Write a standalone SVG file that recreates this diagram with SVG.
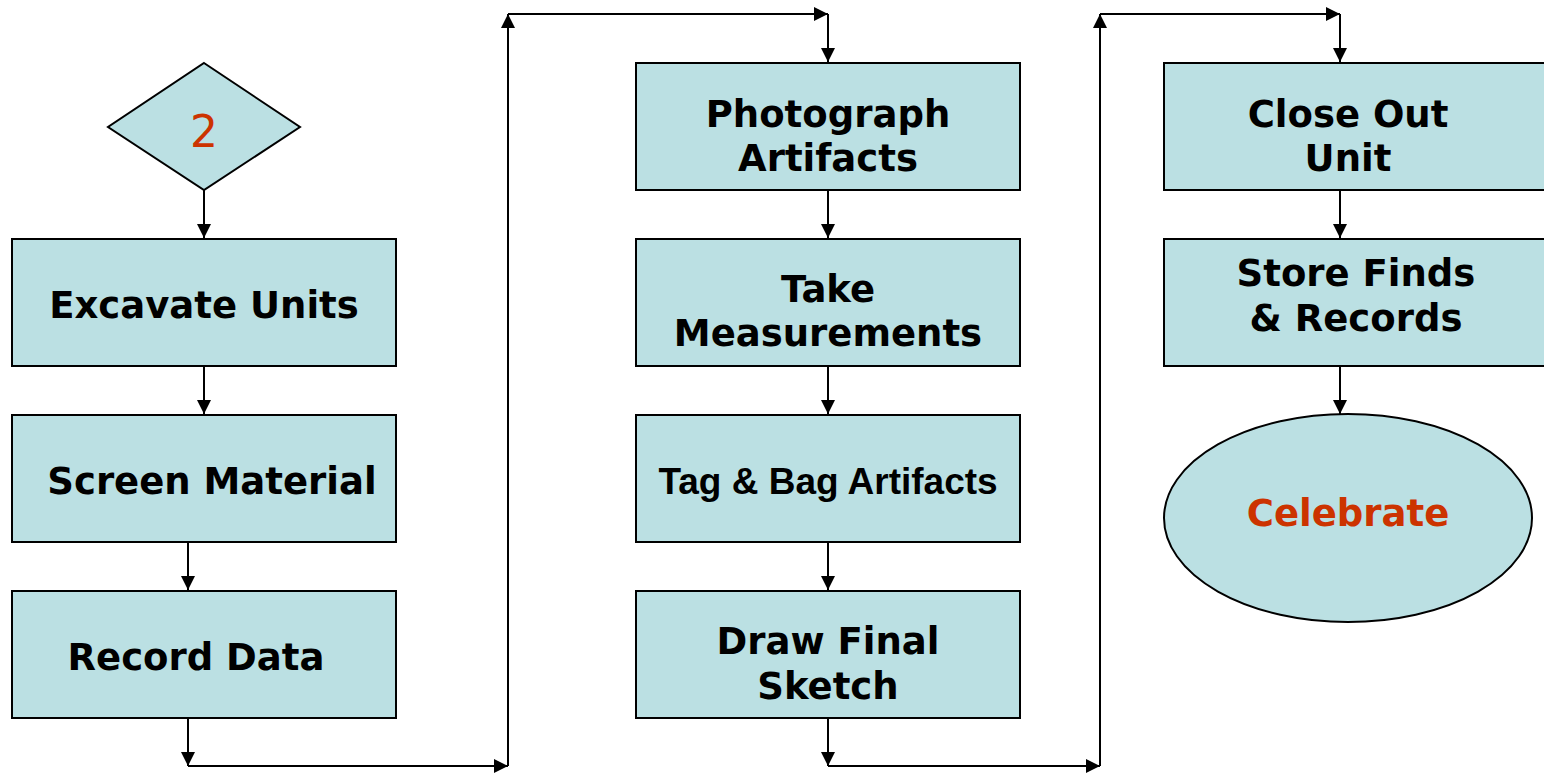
<svg xmlns="http://www.w3.org/2000/svg" width="1544" height="773" viewBox="0 0 1544 773">
<style>
.box{fill:#BBE0E3;stroke:#000;stroke-width:2}
.t{font-family:"DejaVu Sans",Verdana,sans-serif;font-weight:bold;font-size:37px;fill:#000;text-anchor:middle}
.a{font-family:"Liberation Sans",Arial,sans-serif;font-weight:bold;font-size:37px;fill:#000;text-anchor:middle}
.r{fill:#CC3300}
.c{fill:none;stroke:#000;stroke-width:2;marker-end:url(#ah)}
</style>
<defs>
<marker id="ah" viewBox="0 0 14 14" refX="14" refY="7" markerWidth="14" markerHeight="14" markerUnits="userSpaceOnUse" orient="auto">
<path d="M0,0 L14,7 L0,14 z" fill="#000"/>
</marker>
</defs>
<rect width="1544" height="773" fill="#fff"/>
<g id="start">
<polygon class="box" points="204,63 300,127 204,190 108,127"/>
<text x="204" y="147" style="font-family:'DejaVu Sans',Verdana,sans-serif;font-size:44px;text-anchor:middle" class="r">2</text>
</g>
<g id="excavate"><rect class="box" x="12" y="239" width="384" height="127"/><text class="t" x="204" y="318">Excavate Units</text></g>
<g id="screen"><rect class="box" x="12" y="415" width="384" height="127"/><text class="t" x="212" y="494">Screen Material</text></g>
<g id="record"><rect class="box" x="12" y="591" width="384" height="127"/><text class="t" x="196" y="670">Record Data</text></g>
<g id="photograph"><rect class="box" x="636" y="63" width="384" height="127"/><text class="t" x="828" y="127">Photograph</text><text class="t" x="828" y="171">Artifacts</text></g>
<g id="measure"><rect class="box" x="636" y="239" width="384" height="127"/><text class="t" x="828" y="302">Take</text><text class="t" x="828" y="346">Measurements</text></g>
<g id="tagbag"><rect class="box" x="636" y="415" width="384" height="127"/><text class="a" x="828" y="494">Tag &amp; Bag Artifacts</text></g>
<g id="sketch"><rect class="box" x="636" y="591" width="384" height="127"/><text class="t" x="828" y="654">Draw Final</text><text class="t" x="828" y="699">Sketch</text></g>
<g id="closeout"><rect class="box" x="1164" y="63" width="384" height="127"/><text class="t" x="1348" y="127">Close Out</text><text class="t" x="1348" y="171">Unit</text></g>
<g id="store"><rect class="box" x="1164" y="239" width="384" height="127"/><text class="t" x="1356" y="286">Store Finds</text><text class="t" x="1356" y="331">&amp; Records</text></g>
<g id="celebrate"><ellipse class="box" cx="1348" cy="518" rx="184" ry="104"/><text class="t r" x="1348" y="526">Celebrate</text></g>
<g id="connectors">
<line class="c" x1="204" y1="190" x2="204" y2="238"/>
<line class="c" x1="204" y1="366" x2="204" y2="414"/>
<line class="c" x1="188" y1="542" x2="188" y2="590"/>
<line class="c" x1="188" y1="718" x2="188" y2="766"/>
<line class="c" x1="188" y1="766" x2="508" y2="766"/>
<line class="c" x1="508" y1="766" x2="508" y2="14"/>
<line class="c" x1="508" y1="14" x2="828" y2="14"/>
<line class="c" x1="828" y1="14" x2="828" y2="62"/>
<line class="c" x1="828" y1="190" x2="828" y2="238"/>
<line class="c" x1="828" y1="366" x2="828" y2="414"/>
<line class="c" x1="828" y1="542" x2="828" y2="590"/>
<line class="c" x1="828" y1="718" x2="828" y2="766"/>
<line class="c" x1="828" y1="766" x2="1100" y2="766"/>
<line class="c" x1="1100" y1="766" x2="1100" y2="14"/>
<line class="c" x1="1100" y1="14" x2="1340" y2="14"/>
<line class="c" x1="1340" y1="14" x2="1340" y2="62"/>
<line class="c" x1="1340" y1="190" x2="1340" y2="238"/>
<line class="c" x1="1340" y1="366" x2="1340" y2="414"/>
</g>
</svg>
